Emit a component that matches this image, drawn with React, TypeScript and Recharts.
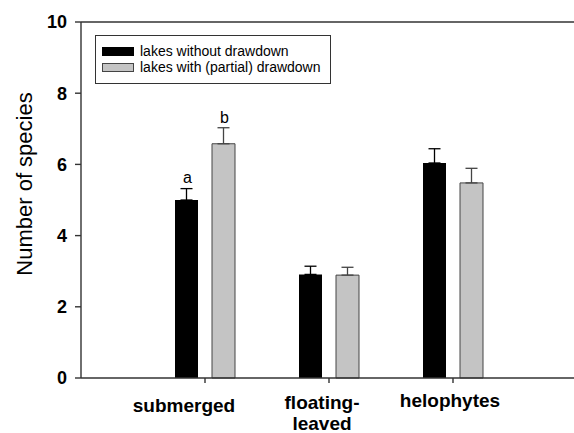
import React from "react";
import {
  Bar,
  BarChart,
  ErrorBar,
  Label,
  LabelList,
  Legend,
  ReferenceLine,
  XAxis,
  YAxis,
} from "recharts";

const categories = ["submerged", "floating-\nleaved", "helophytes"];
const withoutDrawdown = [5.0, 2.91, 6.04];
const withDrawdown = [6.58, 2.89, 5.48];
const withoutErr = [0.32, 0.23, 0.4];
const withErr = [0.45, 0.22, 0.41];
const withoutLetters = ["a", "", ""];
const withLetters = ["b", "", ""];
const yTicks = [0, 2, 4, 6, 8, 10];

const FONT = "'Liberation Sans', Arial, Helvetica, sans-serif";
const AXIS = "#333";

const data = categories.map((name, i) => ({
  name,
  without: withoutDrawdown[i],
  with: withDrawdown[i],
  withoutErr: [0, withoutErr[i]],
  withErr: [0, withErr[i]],
  withoutLetter: withoutLetters[i],
  withLetter: withLetters[i],
}));

// the original figure places its category labels by hand
const labelShift: Record<string, { dx: number; dy: number }> = {
  submerged: { dx: -21, dy: 27 },
  "floating-\nleaved": { dx: -7, dy: 24 },
  helophytes: { dx: -3, dy: 22 },
};

function CategoryTick(props: any) {
  const { x, y, payload } = props;
  const lines = String(payload.value).split("\n");
  const s = labelShift[payload.value] ?? { dx: 0, dy: 20 };
  return (
    <text
      x={x + s.dx}
      y={y + s.dy}
      textAnchor="middle"
      fontSize={19}
      fontWeight="bold"
      fontFamily={FONT}
      fill="#000"
    >
      {lines.map((l, i) => (
        <tspan key={i} x={x + s.dx} dy={i === 0 ? 0 : 21}>
          {l}
        </tspan>
      ))}
    </text>
  );
}

function letterLabel(errs: number[], values: number[], shift: number) {
  return (props: any) => {
    const { x, y, width, height, index, value } = props;
    if (!value) return null;
    const k = Number(height) / values[index];
    const top = Number(y) - errs[index] * k;
    return (
      <text
        x={Number(x) + Number(width) / 2 + 1}
        y={top - shift}
        textAnchor="middle"
        fontSize={16}
        fontFamily={FONT}
        fill="#000"
      >
        {value}
      </text>
    );
  };
}

function YTitle(props: any) {
  const vb = props.viewBox;
  const cx = vb.x + 31.5;
  const cy = vb.y + vb.height / 2 - 16;
  return (
    <text
      transform={`translate(${cx},${cy}) rotate(-90)`}
      textAnchor="middle"
      fontSize={22}
      fontFamily={FONT}
      fill="#000"
    >
      Number of species
    </text>
  );
}

function LegendBox() {
  const row = (fill: string, stroke: string, text: string) => (
    <div style={{ display: "flex", alignItems: "center", height: 15.5 }}>
      <div
        style={{
          width: 32,
          height: 9,
          background: fill,
          border: `1px solid ${stroke}`,
          boxSizing: "border-box",
          marginRight: 6,
        }}
      />
      <span style={{ fontSize: 14, lineHeight: "15px" }}>{text}</span>
    </div>
  );
  return (
    <div
      style={{
        width: 236,
        height: 49,
        boxSizing: "border-box",
        border: "1px solid #333",
        padding: "8px 0 0 6px",
        fontFamily: FONT,
        color: "#000",
        background: "#fff",
      }}
    >
      {row("#000", "#000", "lakes without drawdown")}
      {row("#c4c4c4", "#444", "lakes with (partial) drawdown")}
    </div>
  );
}

export default function App() {
  return (
    <div
      style={{
        position: "absolute",
        left: 0,
        top: 0,
        width: 574,
        height: 433,
        overflow: "hidden",
        background: "#fff",
      }}
    >
      <BarChart
        width={577}
        height={433}
        data={data}
        margin={{ top: 22, right: 0, left: 0, bottom: 0 }}
        barSize={23}
        barGap={14}
      >
        <ReferenceLine y={10} stroke={AXIS} strokeWidth={1.4} />
        <XAxis
          dataKey="name"
          height={55}
          padding={{ left: 62, right: 62 }}
          stroke={AXIS}
          strokeWidth={1.4}
          tickSize={5}
          tick={<CategoryTick />}
          interval={0}
        />
        <YAxis
          width={81}
          domain={[0, 10]}
          ticks={yTicks}
          stroke={AXIS}
          strokeWidth={1.4}
          tickSize={6}
          tickMargin={8}
          tick={{
            fontSize: 18,
            fontWeight: "bold",
            fill: "#000",
            fontFamily: FONT,
          }}
        >
          <Label content={<YTitle />} />
        </YAxis>
        <Legend
          layout="horizontal"
          verticalAlign="middle"
          align="center"
          content={() => <LegendBox />}
          wrapperStyle={{ left: 95, top: 35, width: 236, height: 49 }}
        />
        <Bar
          dataKey="without"
          name="lakes without drawdown"
          fill="#000"
          isAnimationActive={false}
        >
          <ErrorBar
            dataKey="withoutErr"
            width={6}
            stroke="#000"
            strokeWidth={1.3}
            direction="y"
          />
          <LabelList
            dataKey="withoutLetter"
            content={letterLabel(withoutErr, withoutDrawdown, 6)}
          />
        </Bar>
        <Bar
          dataKey="with"
          name="lakes with (partial) drawdown"
          fill="#c4c4c4"
          stroke="#444"
          strokeWidth={1}
          isAnimationActive={false}
        >
          <ErrorBar
            dataKey="withErr"
            width={6}
            stroke="#444"
            strokeWidth={1.3}
            direction="y"
          />
          <LabelList
            dataKey="withLetter"
            content={letterLabel(withErr, withDrawdown, 5)}
          />
        </Bar>
      </BarChart>
    </div>
  );
}
